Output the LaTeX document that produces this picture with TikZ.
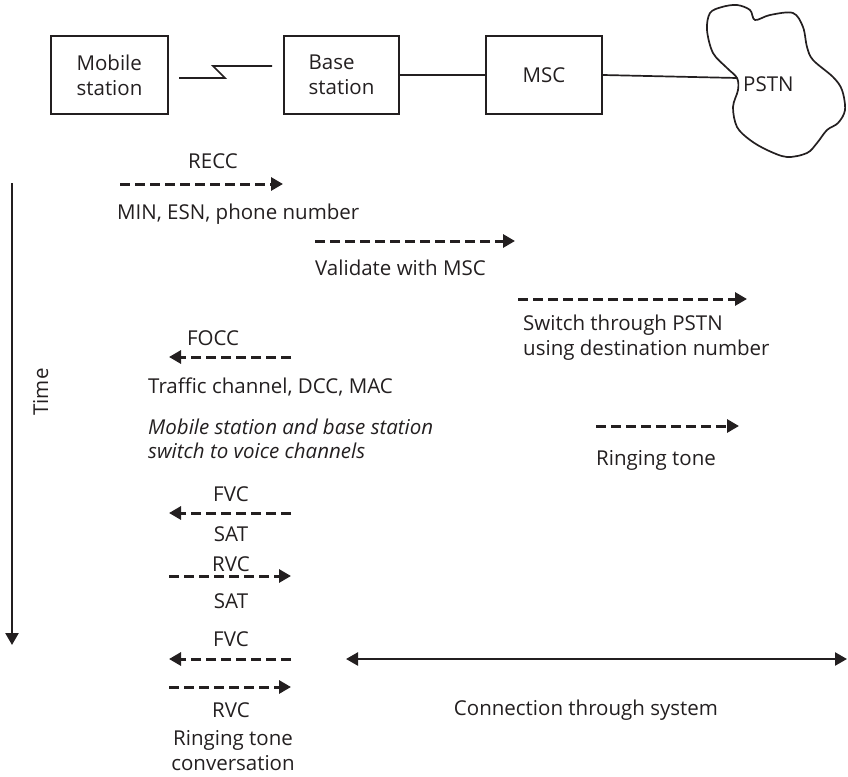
\documentclass[tikz,border=0pt]{standalone}
\usepackage{fontspec}
\setmainfont{Open Sans}
\usetikzlibrary{arrows.meta}
\definecolor{ink}{HTML}{231F20}
\newcommand{\fsz}{\fontsize{20.5}{25}\selectfont}
\tikzset{
  box/.style={draw=ink, line width=1.7pt, minimum height=78pt, inner sep=0pt, align=left, font=\fsz, text=ink},
  lbl/.style={inner sep=0pt, font=\fsz, text=ink},
  msg/.style={draw=ink, line width=3pt, dash pattern=on 10pt off 5pt, -{Triangle[length=12pt,width=13pt]}},
  wire/.style={draw=ink, line width=1.7pt},
}
\begin{document}
\begin{tikzpicture}[x=1pt,y=-1pt]
\useasboundingbox (0,0) rectangle (848,776);
% top row
\node[box, minimum width=117pt] (ms) at (109.5,75) {Mobile\\station};
\node[box, minimum width=115pt] (bs) at (341.5,75) {Base\\station};
\node[box, minimum width=116pt] (msc) at (544,75) {MSC};
\draw[ink, line width=1.7pt, smooth cycle, tension=0.55] plot coordinates {
 (737,78) (727,68) (713,53) (707,30) (710,13) (722,7) (737,5) (750,10) (755,20)
 (770,15) (793,13) (803,27) (807,47) (813,60) (833,77) (842,90) (845,110) (838,123)
 (827,130) (817,143) (807,153) (787,157) (767,150) (750,140) (737,127) (733,107) (738,90)};
\coordinate (pstn) at (737,78);
\node[lbl, anchor=base west] (pstnl) at (743,92) {PSTN};
\coordinate (z1) at (179,78);
\coordinate (z2) at (225,78);
\coordinate (z3) at (213,66);
\coordinate (z4) at (272,66);
\draw[wire] (z1) -- (z2) -- (z3) -- (z4);
\draw[wire] (bs.east) -- (msc.west);
\draw[wire] (msc.east) -- (pstn);
% time axis
\coordinate (t0) at (12,183);
\coordinate (t1) at (12,645);
\draw[ink, line width=2.4pt, -{Triangle[length=12pt,width=13pt]}] (t0) -- (t1);
\node[lbl, rotate=90, anchor=base] (time) at (48,392) {Time};
% messages
\coordinate (a1s) at (120,184); \coordinate (a1e) at (283,184);
\draw[msg] (a1s) -- (a1e);
\node[lbl, anchor=base] (recc) at (213,168) {RECC};
\node[lbl, anchor=base west] (min) at (117,219) {MIN, ESN, phone number};

\coordinate (a2s) at (315,241); \coordinate (a2e) at (515,241);
\draw[msg] (a2s) -- (a2e);
\node[lbl, anchor=base west] (val) at (315,275) {Validate with MSC};

\coordinate (a3s) at (518,299); \coordinate (a3e) at (747,299);
\draw[msg] (a3s) -- (a3e);
\node[lbl, anchor=base west] (sw1) at (523,330) {Switch through PSTN};
\node[lbl, anchor=base west] (sw2) at (523,355) {using destination number};

\coordinate (a4s) at (291,357); \coordinate (a4e) at (169,357);
\draw[msg] (a4s) -- (a4e);
\node[lbl, anchor=base] (focc) at (213,345) {FOCC};
\node[lbl, anchor=base west] (traf) at (148,393) {Traffic channel, DCC, MAC};
\node[lbl, anchor=base west, font=\fsz\itshape] (it1) at (148,434) {Mobile station and base station};
\node[lbl, anchor=base west, font=\fsz\itshape] (it2) at (148,458) {switch to voice channels};

\coordinate (a5s) at (596,426); \coordinate (a5e) at (739,426);
\draw[msg] (a5s) -- (a5e);
\node[lbl, anchor=base west] (ring1) at (596,465) {Ringing tone};

\coordinate (a6s) at (291,513); \coordinate (a6e) at (169,513);
\draw[msg] (a6s) -- (a6e);
\node[lbl, anchor=base] (fvc1) at (231,501) {FVC};
\node[lbl, anchor=base] (sat1) at (231,541) {SAT};

\coordinate (a7s) at (169,576); \coordinate (a7e) at (291,576);
\draw[msg] (a7s) -- (a7e);
\node[lbl, anchor=base] (rvc1) at (231,571) {RVC};
\node[lbl, anchor=base] (sat2) at (231,608) {SAT};

\coordinate (a8s) at (291,659); \coordinate (a8e) at (169,659);
\draw[msg] (a8s) -- (a8e);
\node[lbl, anchor=base] (fvc2) at (231,646) {FVC};

\coordinate (a9s) at (169,687); \coordinate (a9e) at (291,687);
\draw[msg] (a9s) -- (a9e);
\node[lbl, anchor=base] (rvc2) at (231,717) {RVC};
\node[lbl, anchor=base] (ring2) at (233,745) {Ringing tone};
\node[lbl, anchor=base] (conv) at (233,770) {conversation};

\coordinate (c1) at (346,659); \coordinate (c2) at (847,659);
\draw[ink, line width=2.4pt, {Triangle[length=12pt,width=13pt]}-{Triangle[length=12pt,width=13pt]}] (c1) -- (c2);
\node[lbl, anchor=base] (conn) at (586,715) {Connection through system};
\end{tikzpicture}
\end{document}
